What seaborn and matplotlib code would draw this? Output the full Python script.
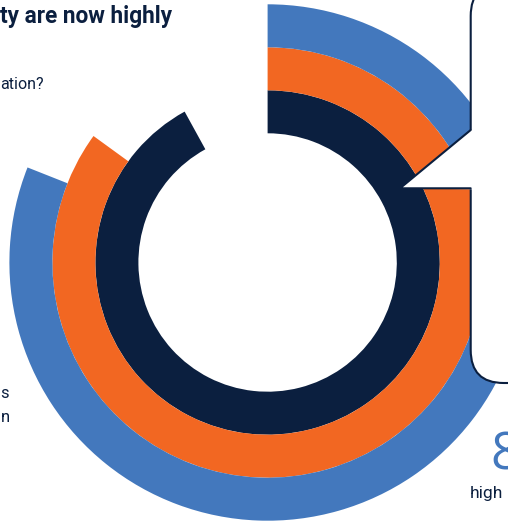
import numpy as np
import pandas as pd
import matplotlib
matplotlib.use("Agg")
import matplotlib.pyplot as plt
import seaborn as sns
from matplotlib.patches import FancyBboxPatch, Polygon
from matplotlib.lines import Line2D

# ---- data (inner ring to outer ring) ----
categories = ["Inner", "Middle", "Outer"]
values = [92, 85, 81]          # percent of full circle
ring_colors = ["#0B1F3F", "#F26722", "#4378BD"]

title_text = "ty are now highly"
subtitle_text = "ation?"
side_lines = ["s", "n"]
big_number = "8"
big_caption = "high"

NAVY = "#0B1F3F"
BLUE = "#4378BD"

sns.set_theme(style="white")
plt.rcParams['font.family'] = ['Roboto', 'DejaVu Sans']

W, H = 508, 522
fig = plt.figure(figsize=(W / 100, H / 100), dpi=100)
fig.patch.set_facecolor("white")

cx, cy = 267.6, 262.5   # ring centre in pixels (top-down)
Rmax = 260.0
ax = fig.add_axes([(cx - Rmax) / W, (H - cy - Rmax) / H, 2 * Rmax / W, 2 * Rmax / H],
                  projection="polar")
ax.set_theta_zero_location("N")
ax.set_theta_direction(-1)

inner = 129.2
thick = 43.0
df = pd.DataFrame({"cat": categories, "value": values})
df["theta"] = df["value"] / 100 * 2 * np.pi
df["r"] = inner + thick * (np.arange(len(df)) + 0.5)

sns.barplot(data=df, x="theta", y="r", hue="cat", palette=ring_colors,
            orient="h", native_scale=True, width=1.0, saturation=1,
            errorbar=None, legend=False, linewidth=0, ax=ax)
ax.set_ylim(0, Rmax)
ax.set_xlim(0, 2 * np.pi)
ax.set_axis_off()

# ---- overlay in pixel coordinates ----
ov = fig.add_axes([0, 0, 1, 1], zorder=5)
ov.set_xlim(0, W)
ov.set_ylim(H, 0)
ov.set_axis_off()
ov.patch.set_alpha(0)

box = FancyBboxPatch((470.7, -17), 160, 400,
                     boxstyle="round,pad=0,rounding_size=33",
                     facecolor="white", edgecolor=NAVY, linewidth=1.5, zorder=2)
ov.add_patch(box)
ov.add_patch(Polygon([(400, 188.3), (472.6, 129), (472.6, 189.3)],
                     closed=True, facecolor="white", edgecolor="none", zorder=3))
ov.add_line(Line2D([470.7, 400, 470.7], [130, 188.3, 188.3], color=NAVY,
                   linewidth=1.5, solid_joinstyle="miter", zorder=4))

ov.text(0, 23, title_text, ha="left", va="baseline", fontsize=16.3,
        fontweight="bold", color=NAVY)
ov.text(0, 89, subtitle_text, ha="left", va="baseline", fontsize=11.5, color=NAVY)
for i, s in enumerate(side_lines):
    ov.text(0.5, 397.7 + 24 * i, s, ha="left", va="baseline", fontsize=12, color=NAVY)
ov.text(490.5, 470, big_number, ha="left", va="baseline", fontsize=37.5,
        family=["Open Sans", "DejaVu Sans"], fontweight="normal", color=BLUE)
ov.text(470, 498.3, big_caption, ha="left", va="baseline", fontsize=12.5, color=NAVY)

fig.savefig("out.png", dpi=100)
